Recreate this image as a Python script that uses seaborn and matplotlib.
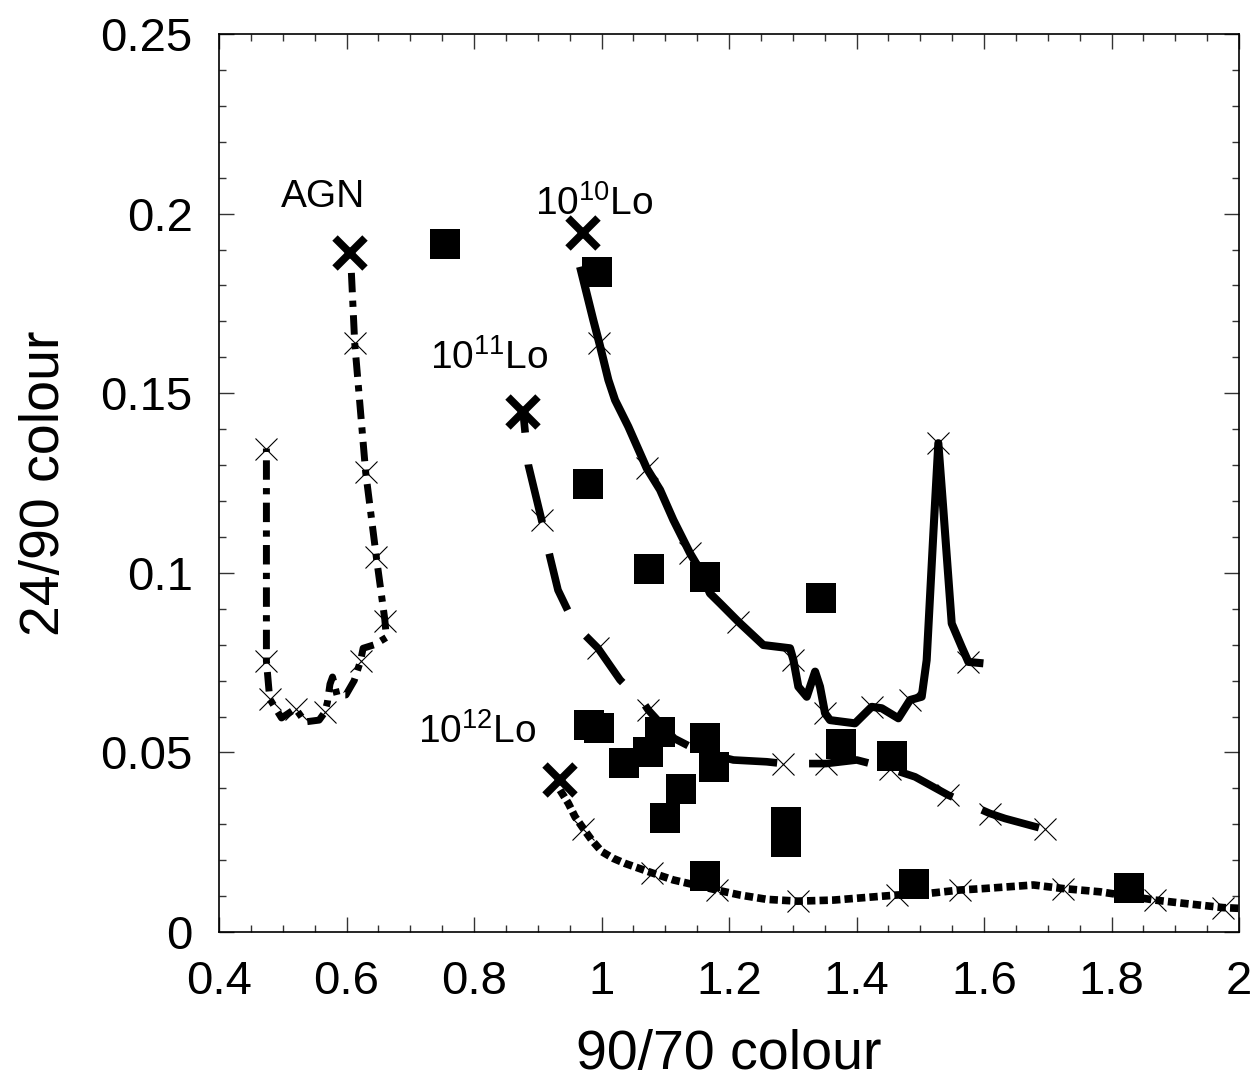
import matplotlib
matplotlib.use("Agg")
import matplotlib.pyplot as plt
import seaborn as sns
import pandas as pd

# ---- data ----
# observed sources (filled squares)
obs_x = [0.7545, 0.993, 0.979, 1.0745, 1.162, 1.344, 0.981, 0.996, 1.036, 1.091,
         1.073, 1.1616, 1.1757, 1.125, 1.099, 1.289, 1.289, 1.376, 1.4557, 1.162,
         1.490, 1.828]
obs_y = [0.1915, 0.1837, 0.1247, 0.1011, 0.0988, 0.093, 0.0576, 0.0569, 0.047, 0.0557,
         0.050, 0.0541, 0.0459, 0.0397, 0.0318, 0.0305, 0.0251, 0.0523, 0.0491, 0.0155,
         0.0134, 0.0122]

# model tracks
agn_x = [0.6076, 0.6128, 0.630, 0.647, 0.660, 0.6625, 0.644, 0.626, 0.622, 0.612, 0.599,
         0.585, 0.578, 0.574, 0.570, 0.566, 0.557, 0.535, 0.520, 0.498, 0.4795, 0.4743, 0.4743]
agn_y = [0.1835, 0.164, 0.128, 0.104, 0.087, 0.082, 0.080, 0.079, 0.0755, 0.070, 0.066,
         0.066, 0.071, 0.069, 0.064, 0.0612, 0.059, 0.0585, 0.0622, 0.0596, 0.0649, 0.0755, 0.1346]
agn_mx = [0.6128, 0.630, 0.6468, 0.660, 0.622, 0.5658, 0.5203, 0.4795, 0.4743, 0.4743]
agn_my = [0.164, 0.1282, 0.1043, 0.0867, 0.0755, 0.0612, 0.0622, 0.0649, 0.0755, 0.1346]

l10_x = [0.9663, 0.987, 0.9966, 1.0107, 1.0212, 1.042, 1.0709, 1.0918, 1.1127, 1.139,
         1.1545, 1.170, 1.186, 1.2146, 1.2538, 1.2957, 1.301, 1.3087, 1.3219, 1.335,
         1.3427, 1.3506, 1.3584, 1.3976, 1.4238, 1.4395, 1.4656, 1.4839, 1.5022, 1.51,
         1.5205, 1.5283, 1.5362, 1.5493, 1.5649, 1.5754, 1.599]
l10_y = [0.1852, 0.1704, 0.1639, 0.1537, 0.1481, 0.1407, 0.1291, 0.1231, 0.1147, 0.1054,
         0.1008, 0.0943, 0.0915, 0.0864, 0.0799, 0.0790, 0.0757, 0.0683, 0.0655, 0.0725,
         0.0683, 0.0609, 0.059, 0.0581, 0.0627, 0.0623, 0.0595, 0.0646, 0.0655, 0.0757,
         0.111, 0.1361, 0.1175, 0.0859, 0.0794, 0.0752, 0.0748]
l10_mx = [0.9966, 1.0709, 1.139, 1.2146, 1.301, 1.3506, 1.4238, 1.4839, 1.5283, 1.5754]
l10_my = [0.1639, 0.1291, 0.1054, 0.0864, 0.0757, 0.0609, 0.0627, 0.0646, 0.1361, 0.0752]

l11_x = [0.877, 0.8852, 0.906, 0.919, 0.9317, 0.958, 0.9945, 1.029, 1.068, 1.0734, 1.114,
         1.1545, 1.2068, 1.259, 1.2852, 1.352, 1.4003, 1.4525, 1.4918, 1.544, 1.6094,
         1.633, 1.6957, 1.7318]
l11_y = [0.1448, 0.130, 0.1147, 0.1045, 0.0952, 0.0855, 0.079, 0.0702, 0.0632, 0.0618, 0.0539,
         0.0502, 0.0479, 0.0474, 0.0469, 0.0469, 0.0479, 0.0455, 0.0432, 0.0381, 0.033,
         0.0316, 0.0286, 0.0273]
l11_mx = [0.906, 0.9945, 1.0734, 1.2852, 1.352, 1.4525, 1.544, 1.6094, 1.6957]
l11_my = [0.1147, 0.079, 0.0618, 0.0469, 0.0469, 0.0455, 0.0381, 0.033, 0.0286]

l12_x = [0.935, 0.948, 0.9584, 0.9715, 0.9846, 1.0003, 1.0185, 1.0369, 1.0787, 1.1127,
         1.1807, 1.2173, 1.2591, 1.3077, 1.3639, 1.463, 1.515, 1.5624, 1.599, 1.6775,
         1.7244, 1.782, 1.868, 1.9127, 1.975, 2.0]
l12_y = [0.0395, 0.0358, 0.0321, 0.0288, 0.0256, 0.0224, 0.0205, 0.0191, 0.0165, 0.0145,
         0.0117, 0.0103, 0.0091, 0.0086, 0.0089, 0.0103, 0.0108, 0.0117, 0.0121, 0.0131,
         0.0121, 0.0112, 0.0089, 0.008, 0.0068, 0.0066]
l12_mx = [0.9715, 1.0787, 1.1807, 1.3077, 1.463, 1.5624, 1.7244, 1.868, 1.975]
l12_my = [0.0288, 0.0165, 0.0117, 0.0086, 0.0103, 0.0117, 0.0121, 0.0089, 0.0068]

# track start points (big crosses) and their labels
start_x = [0.605, 0.971, 0.877, 0.935]
start_y = [0.189, 0.1946, 0.1448, 0.0423]
labels = ["AGN", "10$^{10}$Lo", "10$^{11}$Lo", "10$^{12}$Lo"]
label_x = [0.4973, 0.8957, 0.731, 0.712]
label_y = [0.2018, 0.1996, 0.1567, 0.0526]

# ---- style ----
sns.set_style("ticks")
plt.rcParams["font.family"] = ["Liberation Sans", "DejaVu Sans"]
plt.rcParams["mathtext.default"] = "regular"
plt.rcParams["lines.scale_dashes"] = False
for key in ["text.color", "axes.labelcolor", "xtick.color", "ytick.color",
            "axes.edgecolor"]:
    plt.rcParams[key] = "black"

fig, ax = plt.subplots(figsize=(12.56, 10.8), dpi=100)
fig.subplots_adjust(left=0.1744, right=0.9865, bottom=0.137, top=0.9685)

# tracks
tracks = [
    (agn_x, agn_y, (0, (14, 6, 4.5, 6)), 5.0),
    (l10_x, l10_y, "-", 5.8),
    (l11_x, l11_y, (28, (43, 23)), 5.5),
    (l12_x, l12_y, (0, (6, 3)), 5.5),
]
for tx, ty, ls, lw in tracks:
    sns.lineplot(x=tx, y=ty, sort=False, estimator=None, color="black",
                 linestyle=ls, linewidth=lw, ax=ax)
for line in ax.get_lines():
    line.set_solid_capstyle("butt")
    line.set_dash_capstyle("butt")

# small crosses on the tracks
mx = agn_mx + l10_mx + l11_mx + l12_mx
my = agn_my + l10_my + l11_my + l12_my
ax.plot(mx, my, linestyle="none", marker="x", markersize=16, markeredgewidth=0.8,
        color="black", zorder=4)

# observed sources
obs = pd.DataFrame({"x": obs_x, "y": obs_y})
sns.scatterplot(data=obs, x="x", y="y", marker="s", s=21 ** 2, color="black",
                linewidth=0, ax=ax, zorder=5)

# big crosses
ax.plot(start_x, start_y, linestyle="none", marker="x", markersize=22,
        markeredgewidth=5.5, color="black", zorder=6)

for t, lx, ly in zip(labels, label_x, label_y):
    ax.text(lx, ly, t, fontsize=28, ha="left", va="baseline", color="black")

ax.set_xlim(0.4, 2.0)
ax.set_ylim(0, 0.25)
ax.set_xticks([0.4, 0.6, 0.8, 1.0, 1.2, 1.4, 1.6, 1.8, 2.0])
ax.set_xticklabels(["0.4", "0.6", "0.8", "1", "1.2", "1.4", "1.6", "1.8", "2"])
ax.set_yticks([0, 0.05, 0.1, 0.15, 0.2, 0.25])
ax.set_yticklabels(["0", "0.05", "0.1", "0.15", "0.2", "0.25"])
ax.xaxis.set_minor_locator(matplotlib.ticker.MultipleLocator(0.05))
ax.yaxis.set_minor_locator(matplotlib.ticker.MultipleLocator(0.01))
ax.tick_params(which="both", direction="in", top=True, right=True,
               labelsize=34, color="#333333", labelcolor="black")
ax.tick_params(axis="y", which="both", pad=19)
ax.tick_params(axis="x", which="both", pad=20)
ax.tick_params(which="major", length=11, width=1.0)
ax.tick_params(which="minor", length=5, width=1.0)
for sp in ax.spines.values():
    sp.set_linewidth(1.2)
    sp.set_color("black")

ax.set_xlabel("90/70 colour", fontsize=40, color="black")
ax.set_ylabel("24/90 colour", fontsize=40, color="black")
ax.xaxis.set_label_coords(0.5, -0.108)
ax.yaxis.set_label_coords(-0.145, 0.5)

fig.savefig("out.png", dpi=100)
